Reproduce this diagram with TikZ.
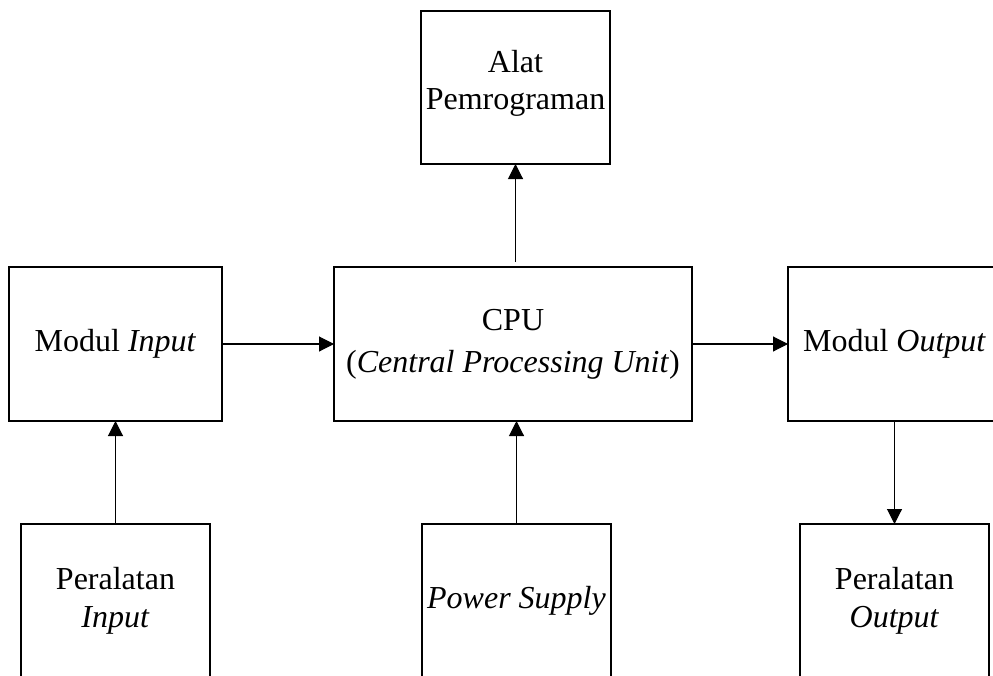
\documentclass[tikz,border=0pt]{standalone}
\usepackage{fontspec}
\setmainfont{Liberation Serif}
\usetikzlibrary{arrows.meta}
\tikzset{
  blok/.style={draw=black, line width=1.2pt, inner sep=0pt, outer sep=0pt,
    align=center, font=\fontsize{32}{38}\selectfont},
  arr/.style={line width=1.1pt, -{Triangle[length=15pt,width=15pt]}}
}
\begin{document}
\begin{tikzpicture}[x=1pt,y=-1pt]
\useasboundingbox (0,0) rectangle (993,675);
\clip (0,0) rectangle (993,675);

% top: programming device
\node[blok, minimum width=189pt, minimum height=153pt] (alat) at (515.5,87.5) {};
\node[align=center, font=\fontsize{32}{37}\selectfont, inner sep=0pt] (alattext) at (515.5,83) {Alat\\Pemrograman};

% middle row
\node[blok, minimum width=213pt, minimum height=154pt] (modin) at (115.5,344) {Modul \textit{Input}};
\node[blok, minimum width=358pt, minimum height=154pt, font=\fontsize{32}{42}\selectfont] (cpu) at (513,344)
  {CPU\\(\textit{Central Processing Unit})};
\node[blok, minimum width=213pt, minimum height=154pt] (modout) at (894.5,344) {Modul \textit{Output}};

% bottom row
\node[blok, minimum width=189pt, minimum height=153pt] (perin) at (115.5,600.5) {Peralatan\\\textit{Input}};
\node[blok, minimum width=189pt, minimum height=153pt] (power) at (516.5,600.5) {\textit{Power Supply}};
\node[blok, minimum width=189pt, minimum height=153pt] (perout) at (894.5,600.5) {Peralatan\\\textit{Output}};

% connectors
\draw[arr] (modin.east) -- (cpu.west);
\draw[arr] (cpu.east |- modout.west) -- (modout.west);
\draw[arr] (perin.north) -- (modin.south);
\draw[arr] (power.north) -- (power.north |- cpu.south);
\draw[arr, shorten <=5pt] (alat.south |- cpu.north) -- (alat.south);
\draw[arr] (modout.south) -- (perout.north);
\end{tikzpicture}
\end{document}
